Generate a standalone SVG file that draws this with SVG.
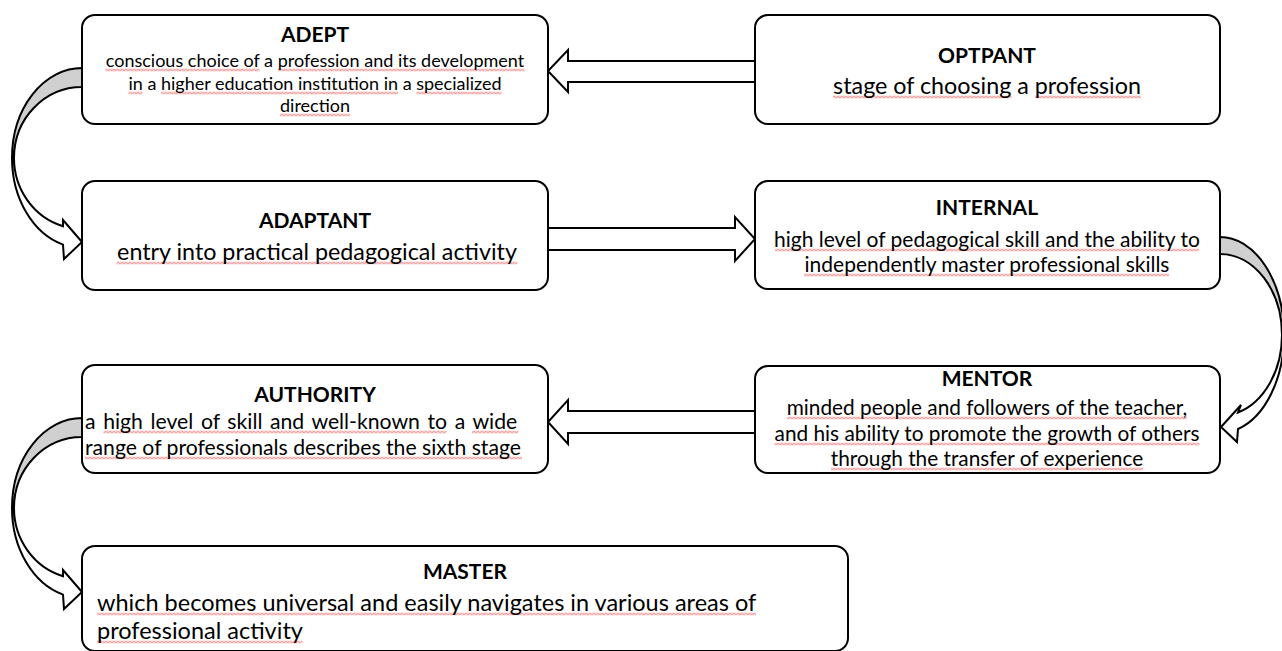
<svg xmlns="http://www.w3.org/2000/svg" width="1282" height="651" viewBox="0 0 1282 651">
<defs>
<pattern id="wv" width="4" height="3" patternUnits="userSpaceOnUse"><path d="M0,2.4 L2,0.6 L4,2.4" fill="none" stroke="#e5393a" stroke-width="0.9"/></pattern>
</defs>
<style>
.box{fill:#fff;stroke:#000;stroke-width:2}
.arr{fill:#fff;stroke:#000;stroke-width:2;stroke-linejoin:miter}
.back{fill:#d0d0d0;stroke:#000;stroke-width:2}
text{font-family:Lato,"Liberation Sans",sans-serif;fill:#000}
.t{font-weight:bold;font-size:21px;text-anchor:middle}
.c{text-anchor:middle}
.w{fill:url(#wv)}
</style>
<rect width="1282" height="651" fill="#fff"/>
<g id="connectors">
  <path class="arr" d="M755,61 L568,61 L568,50 L548,71 L568,92 L568,82 L755,82 Z"/>
  <path class="arr" d="M548,228 L735,228 L735,217 L755,239 L735,261 L735,250 L548,250 Z"/>
  <path class="arr" d="M755,411 L568,411 L568,400 L548,422 L568,444 L568,433 L755,433 Z"/>
  <path class="back" d="M82,68 A70,90 0 0 0 12,158 L14,158 A68,71 0 0 1 82,87 Z"/>
  <path class="arr" d="M12,158 A70,90 0 0 0 63,244.6 L64,259 L82,242 L63,220 L63,226.2 A68,71 0 0 1 14,158 Z"/>
  <path class="back" d="M82,418 A70,90 0 0 0 12,508 L14,508 A68,71 0 0 1 82,437 Z"/>
  <path class="arr" d="M12,508 A70,90 0 0 0 63,594.6 L64,609 L82,592 L63,570 L63,576.2 A68,71 0 0 1 14,508 Z"/>
  <path class="back" d="M1220,237 A64,98 0 0 1 1284,335 L1282,335 A62,81 0 0 0 1220,254 Z"/>
  <path class="arr" d="M1284,335 A64,98 0 0 1 1238,429 L1237,442 L1221,427 L1241,405 L1238,412.5 A62,81 0 0 0 1282,335 Z"/>
</g>
<g id="adept">
  <rect class="box" x="82" y="15" width="466" height="109" rx="13"/>
  <rect class="w" x="105.5" y="0" width="154" height="3" transform="translate(0,68.5)"/>
  <rect class="w" x="278" y="0" width="246.5" height="3" transform="translate(0,68.5)"/>
  <rect class="w" x="128.5" y="0" width="14" height="3" transform="translate(0,91.5)"/>
  <rect class="w" x="161" y="0" width="237" height="3" transform="translate(0,91.5)"/>
  <rect class="w" x="416.5" y="0" width="85" height="3" transform="translate(0,91.5)"/>
  <rect class="w" x="280" y="0" width="70" height="3" transform="translate(0,113.5)"/>
  <text class="t" x="315" y="42" font-size="20">ADEPT</text>
  <text class="c" x="315" y="67" font-size="18">conscious choice of a profession and its development</text>
  <text class="c" x="315" y="90" font-size="18">in a higher education institution in a specialized</text>
  <text class="c" x="315" y="112" font-size="18">direction</text>
</g>
<g id="optpant">
  <rect class="box" x="755" y="15" width="465" height="109" rx="13"/>
  <rect class="w" x="833" y="0" width="178.5" height="3" transform="translate(0,95.5)"/>
  <rect class="w" x="1035" y="0" width="106" height="3" transform="translate(0,95.5)"/>
  <text class="t" x="987" y="63">OPTPANT</text>
  <text class="c" x="987" y="94" font-size="23.3">stage of choosing a profession</text>
</g>
<g id="adaptant">
  <rect class="box" x="82" y="181" width="466" height="109" rx="13"/>
  <rect class="w" x="116.5" y="0" width="401" height="3" transform="translate(0,261.5)"/>
  <text class="t" x="315" y="228">ADAPTANT</text>
  <text class="c" x="317" y="260" font-size="23.3">entry into practical pedagogical activity</text>
</g>
<g id="internal">
  <rect class="box" x="755" y="181" width="465" height="108" rx="13"/>
  <rect class="w" x="775" y="0" width="424" height="3" transform="translate(0,248.5)"/>
  <rect class="w" x="804" y="0" width="365" height="3" transform="translate(0,273.5)"/>
  <text class="t" x="987" y="215">INTERNAL</text>
  <text class="c" x="987" y="247" font-size="21">high level of pedagogical skill and the ability to</text>
  <text class="c" x="987" y="272" font-size="21">independently master professional skills</text>
</g>
<g id="authority">
  <rect class="box" x="82" y="365" width="466" height="108" rx="13"/>
  <rect class="w" x="103.5" y="0" width="343" height="3" transform="translate(0,430.5)"/>
  <rect class="w" x="472" y="0" width="46.5" height="3" transform="translate(0,430.5)"/>
  <rect class="w" x="85" y="0" width="437" height="3" transform="translate(0,456.5)"/>
  <text class="t" x="315" y="402">AUTHORITY</text>
  <text x="85" y="429" font-size="21.2" word-spacing="2.2">a high level of skill and well-known to a wide</text>
  <text x="85" y="455" font-size="21.2">range of professionals describes the sixth stage</text>
</g>
<g id="mentor">
  <rect class="box" x="755" y="366" width="465" height="107" rx="13"/>
  <rect class="w" x="787" y="0" width="400" height="3" transform="translate(0,416.5)"/>
  <rect class="w" x="774.5" y="0" width="425" height="3" transform="translate(0,442.5)"/>
  <rect class="w" x="831" y="0" width="312" height="3" transform="translate(0,467.5)"/>
  <text class="t" x="987" y="386" font-size="16.4">MENTOR</text>
  <text class="c" x="987" y="415" font-size="20.8">minded people and followers of the teacher,</text>
  <text class="c" x="987" y="441" font-size="20.8">and his ability to promote the growth of others</text>
  <text class="c" x="987" y="466" font-size="20.8">through the transfer of experience</text>
</g>
<g id="master">
  <rect class="box" x="82" y="546" width="766" height="105" rx="13"/>
  <rect class="w" x="97" y="0" width="659" height="3" transform="translate(0,612.5)"/>
  <rect class="w" x="97" y="0" width="205.5" height="3" transform="translate(0,640.5)"/>
  <text class="t" x="465" y="579" font-size="22">MASTER</text>
  <text x="97" y="611" font-size="23.5">which becomes universal and easily navigates in various areas of</text>
  <text x="97" y="639" font-size="23.5">professional activity</text>
</g>
</svg>
